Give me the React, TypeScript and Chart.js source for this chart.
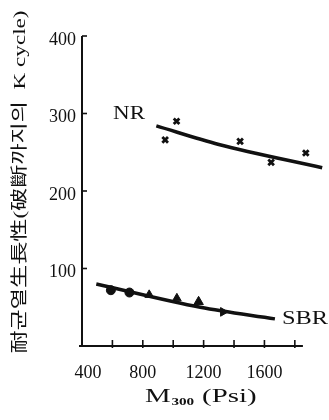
import React, { useEffect, useRef } from "react";
import { Chart, registerables } from "chart.js";
Chart.register(...registerables);

// NR measured points and fitted curve
const nrPointsX = [947, 1022, 1440, 1644, 1872];
const nrPointsY = [266, 290, 264, 237, 249];
const nrLineX = [889, 1300, 1980];
const nrLineY = [284, 260, 230];

// SBR measured points and fitted curve
const sbrPointsX = [590, 712, 842, 1024, 1167, 1328];
const sbrPointsY = [72, 69, 66, 61.5, 57, 44];
const sbrPointStyles = ["circle", "circle", "triangle", "triangle", "triangle", "triangle"];
const sbrPointRotation = [0, 0, 0, 0, 0, 90];
const sbrLineX = [494, 1178, 1669];
const sbrLineY = [80, 50, 35];

// Axes
const xMin = 400;
const xMax = 1980;
const xAxisEnd = 1840;
const xTickValues = [600, 800, 1000, 1200, 1400, 1600, 1800];
const xTickLabels = ["400", "800", "1200", "1600"];
const yMin = 0;
const yMax = 400;
const yTickValues = [100, 200, 300, 400];
const yTickLabels = ["100", "200", "300", "400"];

const yTitle = "耐균열生長性(破斷까지의  K cycle)";
const xTitleMain = "M";
const xTitleSub = "300";
const xTitleRest = " (Psi)";

const toXY = (xs: number[], ys: number[]) => xs.map((x, i) => ({ x, y: ys[i] }));

const INK = "#111";

function fitText(ctx: CanvasRenderingContext2D, text: string, cx: number, cy: number, width: number, font: string) {
  ctx.save();
  ctx.font = font;
  ctx.textAlign = "center";
  ctx.textBaseline = "middle";
  const w = ctx.measureText(text).width;
  ctx.translate(cx, cy);
  ctx.scale(width / w, 1);
  ctx.fillText(text, 0, 0);
  ctx.restore();
}

const decorPlugin = {
  id: "decor",
  beforeDatasetsDraw(chart: any) {
    const ctx: CanvasRenderingContext2D = chart.ctx;
    const xs = chart.scales.x;
    const ys = chart.scales.y;
    const x0 = xs.getPixelForValue(xMin);
    const y0 = ys.getPixelForValue(yMin);
    ctx.save();
    ctx.strokeStyle = INK;
    ctx.lineWidth = 2;
    // y axis
    ctx.beginPath();
    ctx.moveTo(x0, y0 + 1);
    ctx.lineTo(x0, ys.getPixelForValue(yMax));
    ctx.stroke();
    // x axis
    ctx.beginPath();
    ctx.moveTo(x0 - 3, y0);
    ctx.lineTo(xs.getPixelForValue(xAxisEnd) + 2, y0);
    ctx.stroke();
    ctx.lineWidth = 1.6;
    // y ticks (inside)
    yTickValues.forEach((v) => {
      const p = ys.getPixelForValue(v);
      ctx.beginPath();
      ctx.moveTo(x0, p);
      ctx.lineTo(x0 + 5, p);
      ctx.stroke();
    });
    // x ticks
    xTickValues.forEach((v) => {
      const p = xs.getPixelForValue(v);
      ctx.beginPath();
      ctx.moveTo(p, y0 - 6);
      ctx.lineTo(p, y0 + 2);
      ctx.stroke();
    });
    ctx.restore();

    ctx.save();
    ctx.fillStyle = INK;
    ctx.font = '18px "Liberation Serif"';
    ctx.textBaseline = "middle";
    ctx.textAlign = "right";
    yTickLabels.forEach((t) => {
      const p = ys.getPixelForValue(Number(t));
      ctx.fillText(t, 76, p + 4);
    });
    ctx.textAlign = "center";
    xTickLabels.forEach((t, i) => {
      const p = xs.getPixelForValue(Number(t)) + (i === 0 ? 6 : 0);
      ctx.fillText(t, p, 373);
    });
    ctx.restore();

    // Series labels
    ctx.save();
    ctx.fillStyle = INK;
    fitText(ctx, "NR", 129, 114, 32, '19px "Liberation Serif"');
    fitText(ctx, "SBR", 305, 319, 46, '19px "Liberation Serif"');

    // x title with subscript
    const mainFont = '19px "Liberation Serif"';
    const subFont = 'bold 10px "Liberation Serif"';
    ctx.font = mainFont;
    const wM = ctx.measureText(xTitleMain).width;
    const wR = ctx.measureText(xTitleRest).width;
    ctx.font = subFont;
    const wS = ctx.measureText(xTitleSub).width;
    const total = wM + wS + wR;
    const target = 110;
    const sc = target / total;
    ctx.translate(145, 397);
    ctx.scale(sc, 1);
    ctx.textAlign = "left";
    ctx.textBaseline = "middle";
    ctx.font = mainFont;
    ctx.fillText(xTitleMain, 0, 0);
    ctx.font = subFont;
    ctx.fillText(xTitleSub, wM + 0.5, 5);
    ctx.font = mainFont;
    ctx.fillText(xTitleRest, wM + wS + 1, 0);
    ctx.restore();

    // y title (rotated)
    ctx.save();
    ctx.fillStyle = INK;
    ctx.translate(21, 182);
    ctx.rotate(-Math.PI / 2);
    fitText(ctx, yTitle, 0, 0, 343, '17px "Liberation Serif", "Noto Sans CJK KR"');
    ctx.restore();
  },
};

export default function App() {
  const ref = useRef<HTMLCanvasElement | null>(null);
  useEffect(() => {
    if (!ref.current) return;
    const chart = new Chart(ref.current, {
      type: "scatter",
      data: {
        datasets: [
          {
            label: "NR curve",
            data: toXY(nrLineX, nrLineY),
            showLine: true,
            borderColor: INK,
            borderWidth: 3.5,
            pointRadius: 0,
            cubicInterpolationMode: "monotone",
          } as any,
          {
            label: "NR",
            data: toXY(nrPointsX, nrPointsY),
            showLine: false,
            pointStyle: "crossRot",
            pointRadius: 4,
            borderColor: INK,
            borderWidth: 2.8,
            backgroundColor: INK,
          } as any,
          {
            label: "SBR curve",
            data: toXY(sbrLineX, sbrLineY),
            showLine: true,
            borderColor: INK,
            borderWidth: 3.5,
            pointRadius: 0,
            cubicInterpolationMode: "monotone",
          } as any,
          {
            label: "SBR",
            data: toXY(sbrPointsX, sbrPointsY),
            showLine: false,
            pointStyle: sbrPointStyles,
            rotation: sbrPointRotation,
            pointRadius: [4.5, 4.5, 5, 5, 5.5, 5],
            borderColor: INK,
            borderWidth: 1,
            backgroundColor: INK,
          } as any,
        ],
      },
      options: {
        animation: false,
        responsive: false,
        clip: false as any,
        layout: { padding: { left: 82, top: 36, right: 0, bottom: 74 } },
        plugins: { legend: { display: false }, tooltip: { enabled: false } },
        scales: {
          x: { type: "linear", min: xMin, max: xMax, display: false },
          y: { type: "linear", min: yMin, max: yMax, display: false },
        },
      },
      plugins: [decorPlugin],
    });
    return () => chart.destroy();
  }, []);
  return (
    <div style={{ position: "fixed", left: 0, top: 0, width: 329, height: 420, background: "#fff" }}>
      <canvas ref={ref} width={329} height={420} style={{ display: "block", width: 329, height: 420 }} />
    </div>
  );
}
